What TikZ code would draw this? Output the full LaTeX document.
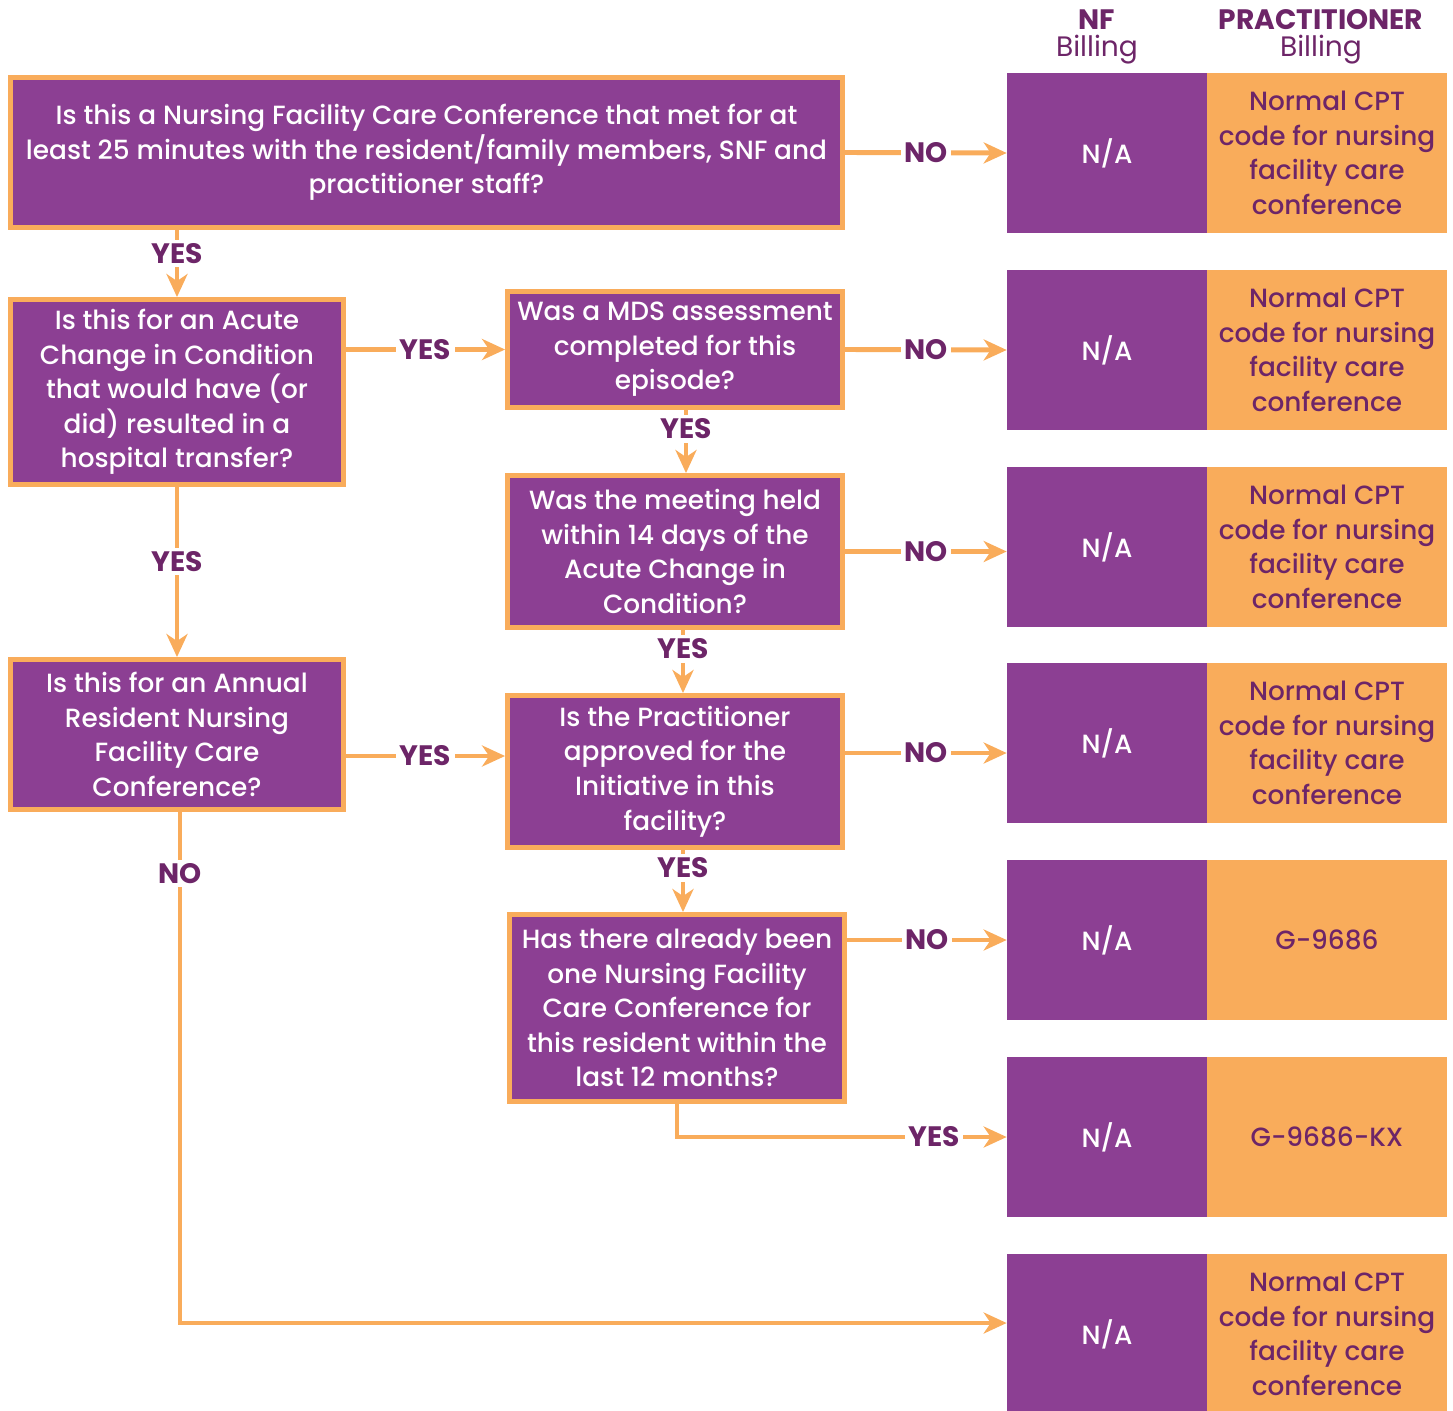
\documentclass[tikz,border=0pt]{standalone}
\usepackage{fontspec}
\setmainfont{Poppins}[UprightFont={* Medium},BoldFont={* Bold}]
\newfontfamily\headlight{Poppins}
\usetikzlibrary{arrows.meta,positioning}
\definecolor{carepurple}{HTML}{8C3F93}
\definecolor{careorange}{HTML}{F9AC5B}
\definecolor{caredark}{HTML}{6D2568}
\newcommand{\boxfont}{\fontsize{15}{19.7}\selectfont}

\begin{document}
\begin{tikzpicture}[x=0.02cm,y=-0.02cm,
  question/.style={draw=careorange,line width=2.8pt,fill=carepurple,text=white,align=center,inner sep=0pt,font=\boxfont},
  nfcell/.style={fill=carepurple,text=white,minimum width=4cm,minimum height=3.2cm,inner sep=0pt,align=center,font=\boxfont},
  prcell/.style={fill=careorange,text=caredark,minimum width=4.8cm,minimum height=3.2cm,inner sep=0pt,align=center,font=\boxfont},
  head/.style={text=caredark,align=center,inner sep=0pt,font=\fontsize{16}{15.3}\selectfont},
  flow/.style={draw=careorange,line width=2.8pt,-{Stealth[length=0.46cm,width=0.42cm,inset=0.14cm]}},
  answer/.style={fill=white,text=caredark,inner sep=2pt,font=\fontsize{16}{19.7}\selectfont\bfseries}]
            \useasboundingbox (0,0) rectangle (1453,1410);
            % column heads
            \node (nfhead) at (1097,37) [head] {{\bfseries NF}\\{\headlight Billing}};
            \node (prhead) at (1321,37) [head] {{\bfseries PRACTITIONER}\\{\headlight Billing}};
            % questions
            \node (q1) at (426.5,152.5) [question,minimum width=16.64cm,minimum height=3cm] {Is this a Nursing Facility Care Conference that met for at\\least 25 minutes with the resident/family members, SNF and\\practitioner staff?};
            \node (q2) at (177,392) [question,minimum width=6.66cm,minimum height=3.7cm] {Is this for an Acute\\Change in Condition\\that would have (or\\did) resulted in a\\hospital transfer?};
            \node (q3) at (675,349.5) [question,minimum width=6.7cm,minimum height=2.32cm] {Was a MDS assessment\\completed for this\\episode?};
            \node (q4) at (675,551.5) [question,minimum width=6.7cm,minimum height=3.04cm] {Was the meeting held\\within 14 days of the\\Acute Change in\\Condition?};
            \node (q5) at (177,734.5) [question,minimum width=6.66cm,minimum height=3cm] {Is this for an Annual\\Resident Nursing\\Facility Care\\Conference?};
            \node (q6) at (675,771.5) [question,minimum width=6.7cm,minimum height=3.04cm] {Is the Practitioner\\approved for the\\Initiative in this\\facility?};
            \node (q7) at (677,1008) [question,minimum width=6.7cm,minimum height=3.74cm] {Has there already been\\one Nursing Facility\\Care Conference for\\this resident within the\\last 12 months?};
            % billing rows
            \node (nf1) at (1107,153) [nfcell] {N/A};
            \node (pr1) at (1327,153) [prcell] {Normal CPT\\code for nursing\\facility care\\conference};
            \node (nf2) at (1107,350) [nfcell] {N/A};
            \node (pr2) at (1327,350) [prcell] {Normal CPT\\code for nursing\\facility care\\conference};
            \node (nf3) at (1107,547) [nfcell] {N/A};
            \node (pr3) at (1327,547) [prcell] {Normal CPT\\code for nursing\\facility care\\conference};
            \node (nf4) at (1107,743) [nfcell] {N/A};
            \node (pr4) at (1327,743) [prcell] {Normal CPT\\code for nursing\\facility care\\conference};
            \node (nf5) at (1107,940) [nfcell] {N/A};
            \node (pr5) at (1327,940) [prcell] {G-9686};
            \node (nf6) at (1107,1137) [nfcell] {N/A};
            \node (pr6) at (1327,1137) [prcell] {G-9686-KX};
            \node (nf7) at (1107,1334) [nfcell] {N/A};
            \node (pr7) at (1327,1334) [prcell] {Normal CPT\\code for nursing\\facility care\\conference};
            % connectors
            \draw[flow] (q1.east) -- node[answer] (a1) {NO} (nf1.west);
            \draw[flow] (q1.south -| q2.north) -- node[answer,pos=0.35] (a2) {YES} (q2.north);
            \draw[flow] (q2.east |- q3.west) -- node[answer] (a3) {YES} (q3.west);
            \draw[flow] (q3.east) -- node[answer] (a4) {NO} (nf2.west);
            \draw[flow] ([xshift=0.22cm]q3.south) -- node[answer,pos=0.3] (a5) {YES} ([xshift=0.22cm]q4.north);
            \draw[flow] (q4.east) -- node[answer] (a6) {NO} (q4.east -| nf3.west);
            \draw[flow] (q2.south) -- node[answer,pos=0.44] (a7) {YES} (q5.north);
            \draw[flow] ([xshift=0.16cm]q4.south) -- node[answer,pos=0.3] (a8) {YES} ([xshift=0.16cm]q6.north);
            \draw[flow] ([yshift=-0.43cm]q5.east) coordinate (s5) -- node[answer] (a9) {YES} (s5 -| q6.west);
            \draw[flow] ([yshift=0.37cm]q6.east) coordinate (s6) -- node[answer] (a10) {NO} (s6 -| nf4.west);
            \draw[flow] ([xshift=0.16cm]q6.south) coordinate (s7) -- node[answer,pos=0.29] (a11) {YES} (s7 |- q7.north);
            \draw[flow] (q7.east |- nf5.west) -- node[answer] (a12) {NO} (nf5.west);
            \draw[flow] (q7.south) |- node[answer,pos=0.89] (a13) {YES} (nf6.west);
            \draw[flow] ([xshift=0.06cm]q5.south) coordinate (s8) |- node[answer,pos=0.06] (a14) {NO} ([yshift=0.22cm]nf7.west);
        \end{tikzpicture}
\end{document}
